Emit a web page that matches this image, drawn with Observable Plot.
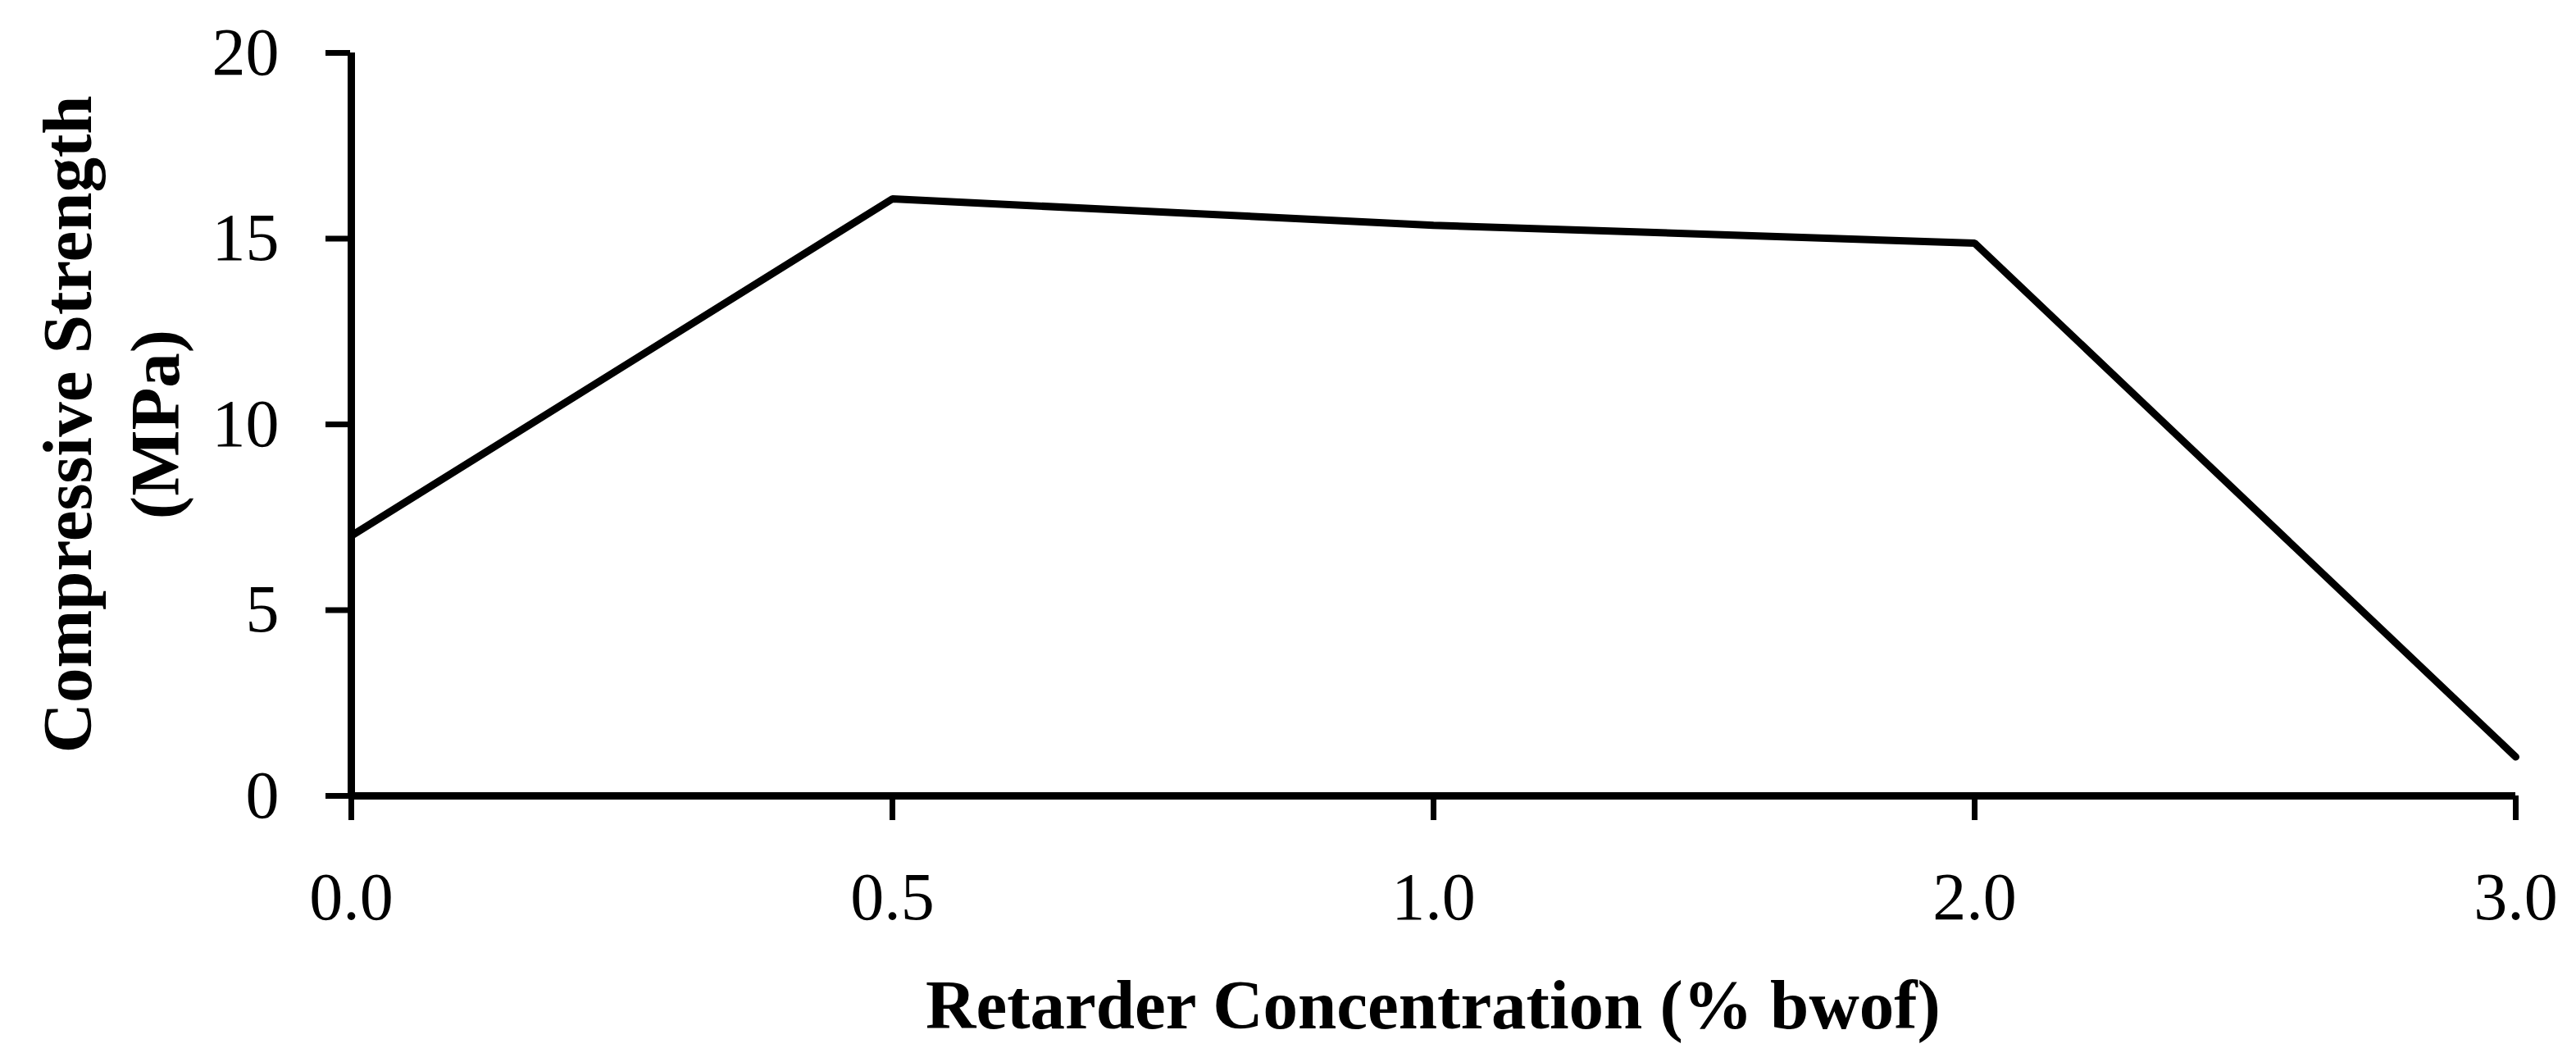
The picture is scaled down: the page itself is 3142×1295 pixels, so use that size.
<!DOCTYPE html>
<html>
<head>
<meta charset="utf-8">
<script src="https://cdn.jsdelivr.net/npm/d3@7"></script>
<script src="https://cdn.jsdelivr.net/npm/@observablehq/plot@0.6"></script>
<style>
  html, body { margin: 0; padding: 0; background: #fff; }
  #chart svg { display: block; }
</style>
</head>
<body>
<div id="chart"></div>
<script>
// Data
const concentrations = ["0.0", "0.5", "1.0", "2.0", "3.0"];
const strengths = [7.0, 16.07, 15.36, 14.88, 1.05];
const yTicks = [0, 5, 10, 15, 20];
const xTitle = "Retarder Concentration (% bwof)";
const yTitle = "Compressive Strength\n(MPa)";

const data = concentrations.map((c, i) => ({conc: c, strength: strengths[i]}));

const chart = Plot.plot({
  width: 3142,
  height: 1295,
  marginLeft: 427,
  marginRight: 74,
  marginTop: 64,
  marginBottom: 325,
  style: {fontFamily: "'Liberation Serif', 'DejaVu Serif', serif", fontSize: "82px", color: "#000", background: "#fff"},
  x: {type: "point", domain: concentrations, padding: 0, label: null},
  y: {domain: [yTicks[0], yTicks[yTicks.length - 1]], label: null},
  marks: [
    Plot.axisY({ticks: yTicks, tickSize: 30, tickPadding: 57, strokeWidth: 7, label: null, fontSize: 82}),
    Plot.axisX({tickSize: 30, tickPadding: 62, strokeWidth: 7, label: null, fontSize: 82}),
    Plot.ruleY([yTicks[0]], {stroke: "#000", strokeWidth: 9}),
    Plot.ruleX([concentrations[0]], {y1: yTicks[0], y2: yTicks[yTicks.length - 1], stroke: "#000", strokeWidth: 9}),
    Plot.line(data, {x: "conc", y: "strength", stroke: "#000", strokeWidth: 9, strokeLinejoin: "miter", strokeLinecap: "round"}),
    Plot.text([xTitle], {frameAnchor: "bottom", textAnchor: "middle", lineAnchor: "middle", dy: 256, fontSize: 85, fontWeight: "bold", fill: "#000"}),
    Plot.text([yTitle], {frameAnchor: "left", textAnchor: "middle", lineAnchor: "middle", dx: -297, rotate: -90, lineHeight: 1.25, fontSize: 85, fontWeight: "bold", fill: "#000"})
  ]
});
document.getElementById("chart").appendChild(chart);
</script>
</body>
</html>
